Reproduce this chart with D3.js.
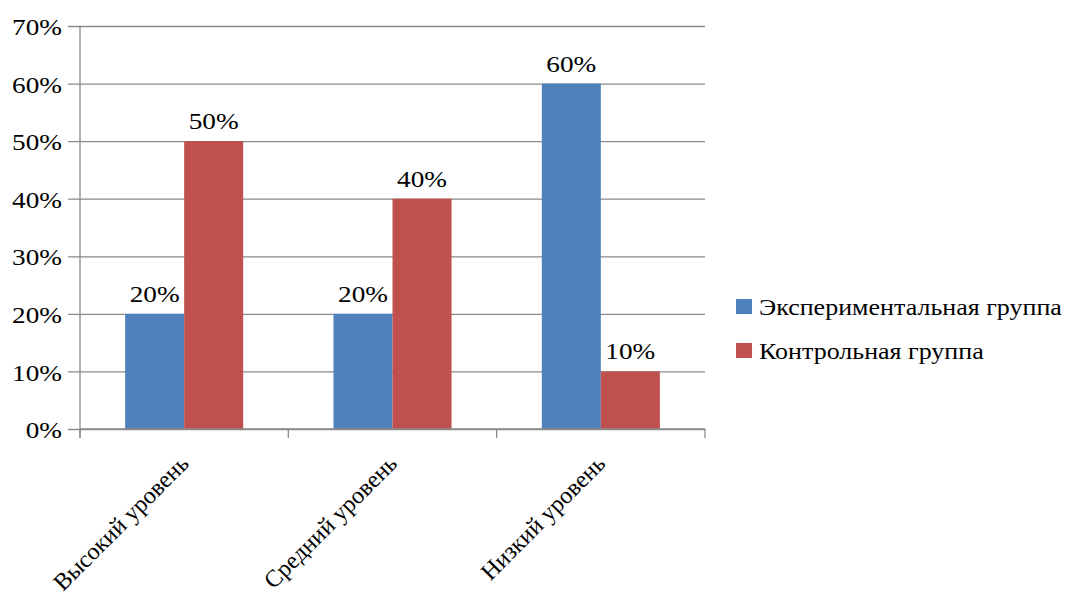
<!DOCTYPE html>
<html>
<head>
<meta charset="utf-8">
<script src="https://cdn.jsdelivr.net/npm/d3@7"></script>
<style>
  body { margin: 0; background: #fff; }
</style>
</head>
<body>
<svg id="chart" width="1069" height="601"></svg>
<script>
const categories = ["Высокий уровень", "Средний уровень", "Низкий уровень"];
const seriesNames = ["Экспериментальная группа", "Контрольная группа"];
const experimental = [0.20, 0.20, 0.60];
const control = [0.50, 0.40, 0.10];
const yTicks = [0, 0.1, 0.2, 0.3, 0.4, 0.5, 0.6, 0.7];
const colors = ["#4f81bd", "#c0504d"];

const series = [experimental, control];
const FONT = "'Liberation Serif', serif";
const svg = d3.select("#chart");
const margin = { left: 80, right: 364, top: 26, bottom: 172 };
const W = 1069, H = 601;
const x0 = margin.left, x1 = W - margin.right;
const y0 = H - margin.bottom, y1 = margin.top;
const gridColor = "#8a8a8a";

const x = d3.scaleBand().domain(categories).range([x0, x1]).paddingInner(0).paddingOuter(0);
const xs = d3.scaleBand().domain(d3.range(series.length)).range([0, x.bandwidth()])
  .paddingInner(0).paddingOuter(0.765);
const y = d3.scaleLinear().domain([0, 0.7]).range([y0, y1]);
const pct = d3.format(".0%");

function styleText(sel, size) {
  return sel.style("font-family", FONT).style("font-size", size + "px").attr("fill", "#000");
}

// horizontal widening so the lettering keeps the wide proportions of the figures
function widthOf(str, size) {
  const t = styleText(svg.append("text"), size).text(str);
  const w = t.node().getComputedTextLength();
  t.remove();
  return w;
}
const sxNum = Math.min(1.3, Math.max(0.8, 50 / widthOf("70%", 24)));
const sxLegend = Math.min(1.3, Math.max(0.8, 303 / widthOf(seriesNames[0], 24)));

// gridlines and y ticks
const yAxis = d3.axisLeft(y).tickValues(yTicks).tickFormat(pct).tickSize(-(x1 - x0)).tickSizeOuter(0);
const gy = svg.append("g").attr("transform", `translate(${x0},0)`).call(yAxis);
gy.select(".domain").remove();
gy.selectAll(".tick line").attr("stroke", gridColor).attr("stroke-width", 1.3).attr("x1", -12);
styleText(gy.selectAll(".tick text"), 24)
  .attr("x", 0).attr("dy", "0.36em")
  .attr("transform", `translate(-18,0) scale(${sxNum},1)`);

// bars with value labels
categories.forEach((c, ci) => {
  series.forEach((s, si) => {
    const bx = x(c) + xs(si);
    svg.append("rect")
      .attr("x", bx)
      .attr("y", y(s[ci]))
      .attr("width", xs.bandwidth())
      .attr("height", y(0) - y(s[ci]))
      .attr("fill", colors[si]);
    styleText(svg.append("text"), 24)
      .attr("transform", `translate(${bx + xs.bandwidth() / 2},${y(s[ci]) - 12}) scale(${sxNum},1)`)
      .attr("text-anchor", "middle")
      .text(pct(s[ci]));
  });
});

// vertical axis line
svg.append("line").attr("x1", x0).attr("x2", x0).attr("y1", y1).attr("y2", y0 + 9)
  .attr("stroke", gridColor).attr("stroke-width", 1.3);
// category axis with boundary ticks
svg.append("line").attr("x1", x0).attr("x2", x1).attr("y1", y0).attr("y2", y0)
  .attr("stroke", gridColor).attr("stroke-width", 1.3);
const bounds = categories.map(c => x(c)).concat([x1]);
bounds.forEach(b => {
  svg.append("line").attr("x1", b).attr("x2", b).attr("y1", y0).attr("y2", y0 + 9)
    .attr("stroke", gridColor).attr("stroke-width", 1.3);
});

// slanted category labels
categories.forEach(c => {
  const cx = x(c) + x.bandwidth() / 2 + 6;
  const cy = y0 + 36;
  styleText(svg.append("text"), 24)
    .attr("transform", `translate(${cx},${cy}) rotate(-45)`)
    .attr("text-anchor", "end")
    .text(c);
});

// legend
seriesNames.forEach((n, i) => {
  const ly = 299 + i * 44;
  svg.append("rect").attr("x", 736).attr("y", ly).attr("width", 16).attr("height", 15).attr("fill", colors[i]);
  styleText(svg.append("text"), 24)
    .attr("transform", `translate(759,${ly + 16}) scale(${sxLegend},1)`)
    .text(n);
});
</script>
</body>
</html>
